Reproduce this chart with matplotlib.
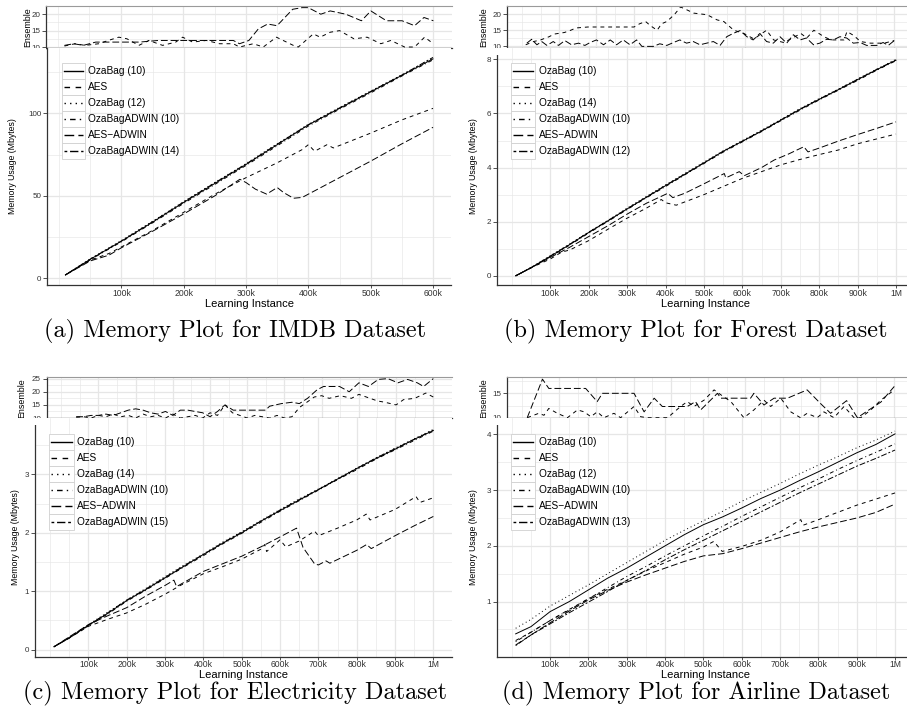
import matplotlib
matplotlib.use("Agg")
import matplotlib.pyplot as plt
import matplotlib.transforms as mtransforms
from matplotlib.lines import Line2D
from matplotlib.patches import Rectangle
from matplotlib.ticker import FuncFormatter

plt.rcParams['font.family'] = ['Liberation Sans', 'DejaVu Sans']

# ---------------- IMDB (instances in thousands, memory in MB) ----------------
imdb_k = [10, 50, 100, 150, 200, 250, 300, 350, 400, 450, 500, 550, 600]
imdb_ozabag10 = [2.0, 11.5, 22.5, 34.0, 46.0, 57.5, 69.0, 81.0, 93.0, 103.0, 113.0, 123.0, 133.0]
imdb_ozabag12 = [2.0, 11.8, 22.9, 34.6, 46.5, 58.2, 69.6, 81.6, 93.4, 103.6, 113.5, 123.4, 133.6]
imdb_ozabagadwin10 = [2.0, 11.2, 22.1, 33.6, 45.4, 56.9, 68.4, 80.3, 92.3, 102.5, 112.4, 122.6, 132.4]
imdb_ozabagadwin14 = [2.0, 11.6, 22.6, 34.3, 46.3, 57.9, 69.3, 81.3, 93.1, 103.3, 113.3, 123.2, 133.9]
imdb_aes_k = [10, 50, 80, 100, 150, 200, 250, 300, 350, 390, 400, 410, 430, 440, 500, 550, 600]
imdb_aes = [2, 11, 15, 19, 29, 40, 51, 61, 70, 78, 81, 77, 81, 79, 88, 96, 103]
imdb_aesadwin_k = [10, 50, 80, 100, 150, 200, 250, 290, 300, 315, 333, 350, 360, 376, 390, 420, 450, 500, 550, 600]
imdb_aesadwin = [2, 10.5, 14, 18.5, 28.5, 39, 50, 60, 58, 54, 51, 55, 52, 48.5, 49, 55, 61, 71, 81.5, 91.5]
imdb_ens_aesadwin_k = [10, 25, 40, 60, 130, 160, 280, 290, 305, 320, 335, 350, 365, 375, 390, 400, 420, 435,
                       460, 485, 500, 525, 550, 570, 585, 600]
imdb_ens_aesadwin = [10.5, 11, 10.5, 11.5, 11.5, 12, 12, 11, 12, 15.5, 17, 16.5, 19.5, 21.5, 22, 22, 20, 21,
                     20, 18, 21, 18, 18, 16.5, 19, 18]
imdb_ens_aes_k = [10, 27, 43, 65, 80, 97, 110, 129, 145, 167, 188, 199, 215, 237, 258, 280, 290, 312, 328, 349,
                  376, 384, 408, 419, 435, 450, 473, 494, 516, 532, 554, 570, 586, 600]
imdb_ens_aes = [10.3, 11, 10.5, 11, 12, 13, 12.5, 10.5, 12, 10.5, 11.5, 13, 11.5, 12, 11, 11, 10, 11, 10, 13,
                10.5, 10, 14, 13, 14.5, 15, 12.5, 13, 11, 12, 10, 10, 13, 11]

# ---------------- Forest ----------------
forest_k = [10, 50, 100, 150, 200, 250, 300, 350, 400, 450, 500, 550, 600, 650, 700, 750, 800, 850, 900, 950, 1000]
forest_ozabag10 = [0.0, 0.3, 0.72, 1.15, 1.6, 2.03, 2.47, 2.9, 3.33, 3.75, 4.17, 4.6, 4.97, 5.35, 5.75, 6.15,
                   6.52, 6.88, 7.25, 7.62, 7.97]
forest_ozabag14 = [0.0, 0.31, 0.74, 1.17, 1.62, 2.05, 2.5, 2.93, 3.36, 3.78, 4.2, 4.62, 5.0, 5.38, 5.78, 6.18,
                   6.55, 6.9, 7.28, 7.64, 8.0]
forest_ozabagadwin10 = [0.0, 0.29, 0.7, 1.13, 1.58, 2.01, 2.45, 2.88, 3.3, 3.73, 4.15, 4.57, 4.95, 5.33, 5.73,
                        6.12, 6.5, 6.86, 7.22, 7.6, 7.95]
forest_ozabagadwin12 = [0.0, 0.3, 0.73, 1.16, 1.61, 2.04, 2.48, 2.91, 3.34, 3.76, 4.18, 4.6, 4.98, 5.36, 5.76,
                        6.16, 6.53, 6.89, 7.26, 7.63, 7.98]
forest_aes_k = [10, 50, 100, 130, 150, 200, 250, 300, 350, 389, 400, 428, 500, 550, 600, 650, 700, 750, 800,
                850, 900, 950, 1000]
forest_aes = [0.0, 0.3, 0.62, 0.88, 0.95, 1.3, 1.72, 2.13, 2.5, 2.82, 2.7, 2.61, 3.0, 3.3, 3.6, 3.85, 4.1,
              4.3, 4.48, 4.65, 4.88, 5.06, 5.24]
forest_aesadwin_k = [10, 50, 100, 150, 200, 250, 300, 350, 406, 419, 450, 500, 553, 557, 592, 605, 650, 683,
                     720, 760, 771, 800, 850, 900, 950, 1000]
forest_aesadwin = [0.0, 0.3, 0.68, 1.05, 1.45, 1.85, 2.28, 2.68, 3.05, 2.89, 3.05, 3.4, 3.78, 3.62, 3.85, 3.7,
                   4.0, 4.28, 4.5, 4.77, 4.58, 4.72, 4.98, 5.22, 5.45, 5.69]
forest_ens_aes_k = [10, 31, 50, 73, 86, 114, 131, 145, 177, 228, 280, 301, 316, 332, 345, 363, 375, 389, 409,
                    426, 443, 461, 497, 524, 542, 569, 596, 623, 657, 676, 703, 722, 749, 765, 784, 811, 830,
                    850, 865, 873, 892, 909, 936, 973, 1000]
forest_ens_aes = [10.5, 11.5, 12, 13, 13.8, 14.3, 15, 15.7, 16, 16, 16, 16, 17, 17.7, 16.4, 15, 17, 17.7, 19.8,
                  22.2, 21.3, 20.3, 19.8, 18.2, 17.7, 15, 14, 12.3, 15, 12, 11.2, 12.3, 14, 12.6, 15, 13, 12,
                  12, 12, 14.6, 13.3, 11.5, 11, 11, 11.8]
forest_ens_aesadwin_k = [13, 26, 40, 53, 67, 84, 98, 115, 133, 152, 169, 183, 200, 219, 237, 254, 272, 290, 308,
                         322, 353, 370, 389, 407, 424, 442, 460, 478, 496, 514, 532, 550, 567, 586, 604, 621,
                         639, 657, 675, 693, 711, 729, 747, 764, 783, 800, 818, 836, 854, 872, 890, 908, 926,
                         953, 970, 984, 1000]
forest_ens_aesadwin = [11.0, 12.2, 10.5, 11.5, 10.3, 11.5, 10.3, 11.8, 10.5, 11.0, 10.3, 11.2, 12.0, 10.5,
                       12.0, 10.5, 12.0, 10.5, 12.0, 10.0, 10.0, 10.8, 10.3, 11.2, 12.0, 11.0, 11.5, 10.5,
                       11.0, 11.5, 10.3, 13.0, 14.0, 14.9, 13.0, 12.0, 14.0, 11.5, 11.0, 13.0, 11.0, 13.6,
                       12.0, 12.6, 10.5, 11.0, 12.2, 12.0, 13.0, 12.6, 11.0, 11.2, 10.3, 10.3, 11.2, 10.3, 11.8]

# ---------------- Electricity ----------------
elec_k = [10, 50, 100, 150, 200, 250, 300, 350, 400, 450, 500, 550, 600, 650, 700, 750, 800, 850, 900, 950, 1000]
elec_ozabag10 = [0.05, 0.2, 0.42, 0.62, 0.84, 1.03, 1.23, 1.43, 1.63, 1.82, 2.0, 2.2, 2.38, 2.56, 2.74, 2.92,
                 3.1, 3.27, 3.43, 3.6, 3.75]
elec_ozabag14 = [0.05, 0.21, 0.43, 0.64, 0.85, 1.05, 1.25, 1.45, 1.64, 1.84, 2.02, 2.21, 2.4, 2.58, 2.75, 2.93,
                 3.11, 3.28, 3.45, 3.61, 3.77]
elec_ozabagadwin10 = [0.05, 0.2, 0.41, 0.61, 0.83, 1.02, 1.22, 1.42, 1.61, 1.81, 1.99, 2.18, 2.37, 2.55, 2.73,
                      2.91, 3.08, 3.26, 3.42, 3.58, 3.74]
elec_ozabagadwin15 = [0.05, 0.21, 0.42, 0.63, 0.85, 1.04, 1.24, 1.44, 1.63, 1.83, 2.01, 2.2, 2.39, 2.57, 2.74,
                      2.92, 3.1, 3.28, 3.44, 3.6, 3.76]
elec_aes_k = [10, 50, 100, 150, 200, 250, 300, 340, 400, 450, 500, 550, 560, 565, 600, 615, 650, 690, 700, 750,
              800, 825, 835, 900, 955, 965, 1000]
elec_aes = [0.05, 0.2, 0.4, 0.52, 0.63, 0.78, 0.95, 1.1, 1.3, 1.42, 1.55, 1.72, 1.8, 1.68, 1.88, 1.76, 1.86,
            2.03, 1.95, 2.08, 2.22, 2.32, 2.22, 2.4, 2.62, 2.52, 2.6]
elec_aesadwin_k = [10, 50, 100, 150, 200, 250, 300, 323, 330, 400, 450, 500, 550, 600, 643, 660, 690, 700, 720,
                   730, 800, 826, 838, 900, 950, 1000]
elec_aesadwin = [0.05, 0.22, 0.43, 0.58, 0.72, 0.92, 1.1, 1.19, 1.08, 1.34, 1.47, 1.6, 1.76, 1.93, 2.08, 1.75,
                 1.47, 1.45, 1.52, 1.48, 1.7, 1.8, 1.73, 1.95, 2.12, 2.28]
elec_ens_aesadwin_k = [40, 60, 80, 100, 120, 140, 160, 180, 200, 220, 240, 260, 280, 300, 320, 340, 360, 380,
                       400, 420, 440, 462, 480, 500, 520, 549, 560, 592, 620, 640, 662, 688, 705, 731, 748, 774,
                       800, 826, 852, 878, 905, 931, 957, 974, 1000]
elec_ens_aesadwin = [10.5, 10.5, 11, 11, 11.5, 11, 12, 13, 13.5, 13, 12, 11.5, 12.5, 11, 13, 13, 12.5, 12, 10.5,
                     12.5, 15, 13, 13, 13, 13, 13, 14.5, 15.5, 16, 15.5, 17.5, 20.8, 22, 22, 22, 20, 23.4, 22,
                     24.7, 25, 23.4, 24.7, 23.4, 22, 25]
elec_ens_aes_k = [40, 60, 80, 100, 120, 140, 160, 180, 200, 220, 240, 260, 280, 300, 320, 340, 360, 380, 400,
                  420, 440, 460, 480, 500, 520, 540, 560, 580, 600, 620, 640, 660, 680, 700, 720, 750, 780, 800,
                  820, 850, 870, 900, 920, 950, 980, 1000]
elec_ens_aes = [10.3, 10.5, 10, 11, 10.5, 11.5, 10.5, 11, 10, 11.5, 10.5, 11, 10, 11.5, 10, 10.5, 11, 10, 12,
                11, 15, 12, 11, 10, 11, 10.5, 10, 11, 10, 10.5, 14, 16, 18, 18.5, 17.5, 18.5, 17.5, 19, 18,
                16.5, 16, 15, 17, 17.5, 19.5, 18]

# ---------------- Airline ----------------
air_k = [10, 50, 100, 150, 200, 250, 300, 350, 400, 450, 500, 550, 600, 650, 700, 750, 800, 850, 900, 950, 1000]
air_ozabag10 = [0.42, 0.55, 0.82, 1.0, 1.21, 1.42, 1.6, 1.8, 2.0, 2.2, 2.38, 2.52, 2.68, 2.85, 3.0, 3.17, 3.33,
                3.5, 3.67, 3.82, 4.01]
air_ozabag12 = [0.52, 0.68, 0.92, 1.11, 1.3, 1.5, 1.7, 1.9, 2.1, 2.28, 2.45, 2.62, 2.8, 2.96, 3.12, 3.29, 3.45,
                3.6, 3.76, 3.9, 4.06]
air_ozabagadwin10 = [0.28, 0.45, 0.66, 0.85, 1.05, 1.25, 1.45, 1.63, 1.82, 2.0, 2.18, 2.35, 2.53, 2.7, 2.87,
                     3.04, 3.2, 3.37, 3.53, 3.68, 3.83]
air_ozabagadwin13 = [0.21, 0.4, 0.6, 0.8, 0.99, 1.18, 1.38, 1.56, 1.75, 1.93, 2.1, 2.27, 2.44, 2.61, 2.78, 2.95,
                     3.11, 3.27, 3.43, 3.57, 3.72]
air_aes_k = [10, 50, 100, 150, 200, 250, 300, 350, 400, 450, 500, 527, 549, 600, 650, 700, 754, 760, 800, 850,
             900, 950, 1000]
air_aes = [0.3, 0.45, 0.66, 0.86, 1.05, 1.22, 1.38, 1.55, 1.7, 1.85, 1.98, 2.08, 1.9, 1.99, 2.1, 2.25, 2.47,
           2.37, 2.47, 2.6, 2.73, 2.84, 2.95]
air_aesadwin = [0.22, 0.4, 0.62, 0.83, 1.03, 1.2, 1.35, 1.48, 1.6, 1.72, 1.82, 1.86, 1.95, 2.05, 2.15, 2.25,
                2.34, 2.42, 2.5, 2.6, 2.75]
air_ens_aesadwin_k = [14, 55, 72, 171, 202, 216, 301, 328, 355, 377, 444, 466, 480, 525, 534, 614, 623, 650,
                      677, 713, 766, 802, 829, 872, 901, 930, 964, 1000]
air_ens_aesadwin = [10, 17.9, 16, 16, 13.3, 15, 15, 11.2, 14, 12.3, 12.3, 13.3, 11.6, 15, 14, 14, 15, 12.6, 14,
                    14, 15.7, 12.9, 10.9, 13.5, 10, 11.5, 13.2, 16.4]
air_ens_aes_k = [14, 45, 59, 72, 95, 122, 149, 167, 185, 202, 220, 247, 265, 301, 319, 337, 391, 426, 444, 462,
                 489, 516, 534, 561, 596, 623, 650, 668, 695, 722, 748, 766, 793, 811, 838, 865, 892, 910, 937,
                 964, 1000]
air_ens_aes = [10, 10.9, 10.5, 11.9, 10.9, 10, 11.6, 11.2, 10.2, 11.2, 10, 10.9, 10, 12.3, 10.2, 10, 10, 12.3,
               13.3, 12.3, 13.6, 15.7, 14.7, 13.3, 10, 11.6, 13.6, 12.3, 14, 11.2, 10, 10.9, 10, 11.2, 10, 12.3,
               10, 10, 11.6, 13.6, 15.7]

# ggplot-like line types (in units of line width)
LT = {
    'solid': '-',
    'dashed': (0, (4, 4)),
    'dotted': (0, (1, 3)),
    'dotdash': (0, (1, 3, 4, 3)),
    'longdash': (0, (7, 3)),
    'twodash': (0, (2, 2, 6, 2)),
}

W, H = 907, 718
INK = '#333333'
GRID = '#E6E6E6'

fig = plt.figure(figsize=(W / 100, H / 100), dpi=100)


def fbox(l, t, r, b):
    return [l / W, 1 - b / H, (r - l) / W, (b - t) / H]


def k_label(v, _):
    return '1M' if v >= 1000 else f'{v:.0f}k'


def frame(ax, xlim, xmajor, ylim, ymajor, yminor):
    ax.set_xlim(*xlim)
    ax.set_ylim(*ylim)
    ax.set_xticks(xmajor)
    ax.set_xticks([v for v in range(0, 1100, 50) if v <= xlim[1]], minor=True)
    ax.set_yticks(ymajor)
    ax.set_yticks(yminor, minor=True)
    ax.grid(which='major', color=GRID, lw=0.9)
    ax.grid(which='minor', color=GRID, lw=0.45)
    ax.set_axisbelow(True)
    ax.tick_params(which='minor', length=0)
    ax.tick_params(which='major', color=INK, width=0.6, length=2.2, labelcolor=INK)
    ax.tick_params(axis='y', labelsize=5.8, pad=1.5, length=2.6)
    ax.tick_params(axis='x', labelsize=6.2, pad=0.5)
    ax.yaxis.set_major_formatter(FuncFormatter(lambda v, _: f'{v:g}'))
    ax.xaxis.set_major_formatter(FuncFormatter(k_label))
    for s in ('top', 'right'):
        ax.spines[s].set_visible(False)
    for s in ('left', 'bottom'):
        ax.spines[s].set_color(INK)
        ax.spines[s].set_linewidth(0.9)


def draw_panel(ens_px, main_px, xlim, xmajor, ens_ylim, ens_major, ens_minor, main_ylim, main_major,
               main_minor, main_series, ens_series, legend_px, label_px, caption):
    ens = fig.add_axes(fbox(*ens_px))
    main = fig.add_axes(fbox(*main_px))

    frame(ens, xlim, xmajor, ens_ylim, ens_major, ens_minor)
    ens.tick_params(axis='x', length=0, labelbottom=False)
    ens.spines['top'].set_visible(True)
    ens.spines['top'].set_color('#9A9A9A')
    ens.spines['top'].set_linewidth(0.8)
    for k, v, lt in ens_series:
        ens.plot(k, v, color='black', lw=0.7, ls=LT[lt])

    frame(main, xlim, xmajor, main_ylim, main_major, main_minor)
    for _, k, v, lt in main_series:
        main.plot(k, v, color='black', lw=0.7, ls=LT[lt])

    ens_lab_x, main_lab_x, xlab_y = label_px
    ens.set_ylabel('Ensemble', fontsize=6.4, color='black')
    ens.yaxis.set_label_coords(ens_lab_x / W, 0.5,
                               transform=mtransforms.blended_transform_factory(fig.transFigure, ens.transAxes))
    ens.yaxis.label.set_va('center')
    main.set_ylabel('Memory Usage (Mbytes)', fontsize=6.3, color='black')
    main.yaxis.set_label_coords(main_lab_x / W, 0.5,
                                transform=mtransforms.blended_transform_factory(fig.transFigure, main.transAxes))
    main.yaxis.label.set_va('center')
    main.set_xlabel('Learning Instance', fontsize=8.0, color='black')
    main.xaxis.set_label_coords(0.5, 1 - xlab_y / H,
                                transform=mtransforms.blended_transform_factory(main.transAxes, fig.transFigure))
    main.xaxis.label.set_va('center')

    # the lowest ensemble tick label disappears under the memory panel
    fig.add_artist(Rectangle(((ens_px[0] - 30) / W, 1 - (main_px[1] + 7) / H), 29.5 / W, 7 / H,
                             transform=fig.transFigure, facecolor='white', edgecolor='none', zorder=3))

    # legend keys drawn as stacked boxes
    key_l, key_r, text_x, row0 = legend_px
    for i, (label, _, _, lt) in enumerate(main_series):
        yc = row0 + 16 * i
        fig.add_artist(Rectangle((key_l / W, 1 - (yc + 8) / H), (key_r - key_l) / W, 16 / H,
                                 transform=fig.transFigure, facecolor='white', edgecolor='#D0D0D0',
                                 lw=0.6, zorder=4))
        fig.add_artist(Line2D([(key_l + 2) / W, (key_r - 2) / W], [1 - yc / H] * 2,
                              transform=fig.transFigure, color='black', lw=1.0, ls=LT[lt], zorder=5))
        fig.text(text_x / W, 1 - yc / H, label, fontsize=7.3, ha='left', va='center', zorder=5)

    cx, cy, ctext = caption
    fig.text(cx / W, 1 - cy / H, ctext, family=['cmr10', 'DejaVu Serif'], fontsize=17.5,
             ha='center', va='center')


ADW = 'AES\u2212ADWIN'
big_x = [100, 200, 300, 400, 500, 600, 700, 800, 900, 1000]

draw_panel(
    (46, 6, 451.8, 48), (47, 48, 451.4, 285), (-19.5, 629.5), [100, 200, 300, 400, 500, 600],
    (9.7, 22.5), [10, 15, 20], [12.5, 17.5],
    (-4.1, 139.6), [0, 50, 100], [25, 75, 125],
    [('OzaBag (10)', imdb_k, imdb_ozabag10, 'solid'),
     ('AES', imdb_aes_k, imdb_aes, 'dashed'),
     ('OzaBag (12)', imdb_k, imdb_ozabag12, 'dotted'),
     ('OzaBagADWIN (10)', imdb_k, imdb_ozabagadwin10, 'dotdash'),
     (ADW, imdb_aesadwin_k, imdb_aesadwin, 'longdash'),
     ('OzaBagADWIN (14)', imdb_k, imdb_ozabagadwin14, 'twodash')],
    [(imdb_ens_aes_k, imdb_ens_aes, 'dashed'), (imdb_ens_aesadwin_k, imdb_ens_aesadwin, 'longdash')],
    (62, 85, 88, 71), (28, 13, 303.5), (235, 331, '(a) Memory Plot for IMDB Dataset'))

draw_panel(
    (507.3, 6, 912.7, 48), (496.7, 48, 915, 285), (-39.5, 1049.5), big_x,
    (9.5, 22.5), [10, 15, 20], [12.5, 17.5],
    (-0.34, 8.42), [0, 2, 4, 6, 8], [1, 3, 5, 7],
    [('OzaBag (10)', forest_k, forest_ozabag10, 'solid'),
     ('AES', forest_aes_k, forest_aes, 'dashed'),
     ('OzaBag (14)', forest_k, forest_ozabag14, 'dotted'),
     ('OzaBagADWIN (10)', forest_k, forest_ozabagadwin10, 'dotdash'),
     (ADW, forest_aesadwin_k, forest_aesadwin, 'longdash'),
     ('OzaBagADWIN (12)', forest_k, forest_ozabagadwin12, 'twodash')],
    [(forest_ens_aes_k, forest_ens_aes, 'dashed'), (forest_ens_aesadwin_k, forest_ens_aesadwin, 'longdash')],
    (511, 535, 539, 71), (484, 474, 303.5), (696, 331, '(b) Memory Plot for Forest Dataset'))

draw_panel(
    (46.6, 377.3, 451.7, 418.3), (35, 418.3, 452.3, 656.7), (-39.5, 1049.5), big_x,
    (9.9, 25.5), [10, 15, 20, 25], [12.5, 17.5, 22.5],
    (-0.12, 3.96), [0, 1, 2, 3], [0.5, 1.5, 2.5, 3.5],
    [('OzaBag (10)', elec_k, elec_ozabag10, 'solid'),
     ('AES', elec_aes_k, elec_aes, 'dashed'),
     ('OzaBag (14)', elec_k, elec_ozabag14, 'dotted'),
     ('OzaBagADWIN (10)', elec_k, elec_ozabagadwin10, 'dotdash'),
     (ADW, elec_aesadwin_k, elec_aesadwin, 'longdash'),
     ('OzaBagADWIN (15)', elec_k, elec_ozabagadwin15, 'twodash')],
    [(elec_ens_aes_k, elec_ens_aes, 'dashed'), (elec_ens_aesadwin_k, elec_ens_aesadwin, 'longdash')],
    (49, 74, 77, 442.3), (21.7, 15, 675), (235, 693, '(c) Memory Plot for Electricity Dataset'))

draw_panel(
    (507.3, 377.3, 912.7, 418.3), (496.7, 418.3, 914, 656.7), (-39.5, 1049.5), big_x,
    (9.88, 18.28), [10, 15], [12.5, 17.5],
    (0.01, 4.29), [1, 2, 3, 4], [0.5, 1.5, 2.5, 3.5],
    [('OzaBag (10)', air_k, air_ozabag10, 'solid'),
     ('AES', air_aes_k, air_aes, 'dashed'),
     ('OzaBag (12)', air_k, air_ozabag12, 'dotted'),
     ('OzaBagADWIN (10)', air_k, air_ozabagadwin10, 'dotdash'),
     (ADW, air_k, air_aesadwin, 'longdash'),
     ('OzaBagADWIN (13)', air_k, air_ozabagadwin13, 'twodash')],
    [(air_ens_aes_k, air_ens_aes, 'dashed'), (air_ens_aesadwin_k, air_ens_aesadwin, 'longdash')],
    (511, 535, 539, 442.3), (484, 474, 675), (696, 693, '(d) Memory Plot for Airline Dataset'))

fig.savefig('out.png', dpi=100, facecolor='white')
